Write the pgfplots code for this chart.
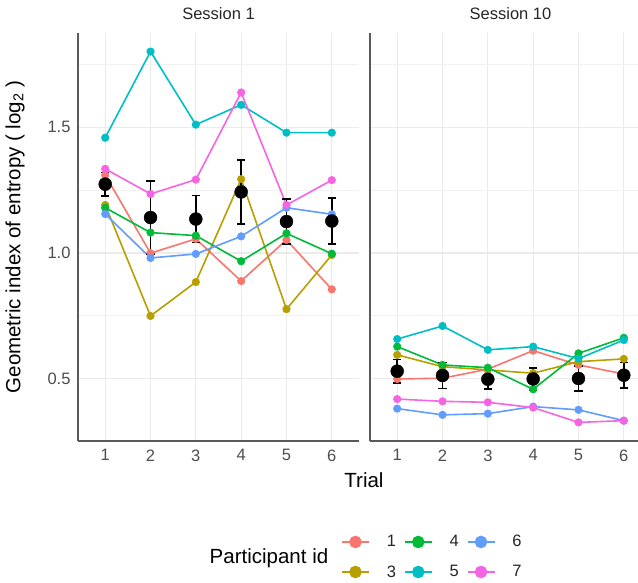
\documentclass[border=0pt]{standalone}
\usepackage{pgfplots}
\pgfplotsset{compat=1.18}
\usepackage{fontspec}
\setmainfont{Liberation Sans}
\definecolor{c1}{HTML}{F8766D}
\definecolor{c3}{HTML}{B79F00}
\definecolor{c4}{HTML}{00BA38}
\definecolor{c5}{HTML}{00BFC4}
\definecolor{c6}{HTML}{619CFF}
\definecolor{c7}{HTML}{F564E3}
\definecolor{gridc}{HTML}{EBEBEB}
\definecolor{axc}{HTML}{5A5A5A}
\definecolor{tickc}{HTML}{4D4D4D}
\pgfplotsset{
  panel/.style={
    scale only axis, width=281pt, height=408pt,
    xmin=0.4, xmax=6.6, ymin=0.251, ymax=1.876,
    axis x line=bottom, axis y line=left,
    axis line style={-, draw=axc, line width=1.3pt},
    xtick={1,2,3,4,5,6}, ytick={0.5,1.0,1.5}, minor ytick={0.75,1.25,1.75},
    grid=both,
    major grid style={draw=gridc, line width=1.3pt},
    minor grid style={draw=gridc!70, line width=0.7pt},
    major tick length=0pt, minor tick length=0pt,
    tick label style={font=\fontsize{16.5}{18}\selectfont, text=tickc},
    /pgf/number format/assume math mode=true,
    yticklabel style={/pgf/number format/fixed, /pgf/number format/fixed zerofill, /pgf/number format/precision=1, xshift=-4pt},
    xticklabel style={yshift=-5pt},
    title style={font=\fontsize{16.5}{18}\selectfont, text=black!85, yshift=4pt},
  },
  pl/.style={color=#1, line width=1.6pt, mark=*, mark size=3.8pt, mark options={solid, fill=#1, draw=#1, line width=0.5pt}, forget plot},
  mn/.style={black, only marks, mark=*, mark size=6.5pt, forget plot,
    error bars/.cd, y dir=both, y explicit,
    error bar style={line width=1.5pt, black},
    error mark options={black, line width=1.5pt, mark size=4.2pt, rotate=90}},
  lg/.style={color=#1, line width=1.6pt, mark=*, mark size=5.5pt, mark options={solid, fill=#1, draw=#1}},
}
\begin{document}
\begin{tikzpicture}
\begin{axis}[panel, at={(78pt,142pt)}, anchor=south west, title={Session 1},
  legend columns=3,
  legend image code/.code={\draw[mark repeat=2, mark phase=2, #1] plot coordinates {(0pt,0pt) (13.5pt,0pt) (27pt,0pt)};},
  legend style={at={(1.261,-0.2843)}, anchor=center, draw=none, fill=none,
    font=\fontsize{16.5}{18}\selectfont, text=black!85, row sep=13pt,
    /tikz/every even column/.append style={column sep=6pt},
    /tikz/every odd column/.append style={column sep=15pt}},
  legend cell align=left]
\addlegendimage{lg=c1}\addlegendentry{1}
\addlegendimage{lg=c4}\addlegendentry{4}
\addlegendimage{lg=c6}\addlegendentry{6}
\addlegendimage{lg=c3}\addlegendentry{3}
\addlegendimage{lg=c5}\addlegendentry{5}
\addlegendimage{lg=c7}\addlegendentry{7}
\addplot[pl=c1] coordinates {(1,1.31)(2,0.999)(3,1.056)(4,0.888)(5,1.052)(6,0.855)};
\addplot[pl=c3] coordinates {(1,1.191)(2,0.749)(3,0.884)(4,1.294)(5,0.776)(6,0.992)};
\addplot[pl=c4] coordinates {(1,1.18)(2,1.081)(3,1.069)(4,0.967)(5,1.078)(6,0.997)};
\addplot[pl=c5] coordinates {(1,1.459)(2,1.802)(3,1.511)(4,1.590)(5,1.479)(6,1.479)};
\addplot[pl=c6] coordinates {(1,1.155)(2,0.98)(3,0.996)(4,1.066)(5,1.18)(6,1.154)};
\addplot[pl=c7] coordinates {(1,1.335)(2,1.235)(3,1.292)(4,1.639)(5,1.191)(6,1.29)};
\addplot[mn] coordinates {(1,1.274) +- (0,0.047) (2,1.141) +- (0,0.146) (3,1.135) +- (0,0.094) (4,1.243) +- (0,0.128) (5,1.125) +- (0,0.090) (6,1.127) +- (0,0.092)};
\end{axis}
\begin{axis}[panel, at={(370pt,142pt)}, anchor=south west, title={Session 10}, yticklabels={}]
\addplot[pl=c1] coordinates {(1,0.498)(2,0.501)(3,0.537)(4,0.611)(5,0.554)(6,0.518)};
\addplot[pl=c3] coordinates {(1,0.594)(2,0.547)(3,0.534)(4,0.521)(5,0.567)(6,0.578)};
\addplot[pl=c4] coordinates {(1,0.627)(2,0.554)(3,0.543)(4,0.457)(5,0.600)(6,0.662)};
\addplot[pl=c5] coordinates {(1,0.657)(2,0.709)(3,0.614)(4,0.627)(5,0.579)(6,0.653)};
\addplot[pl=c6] coordinates {(1,0.380)(2,0.355)(3,0.360)(4,0.388)(5,0.375)(6,0.332)};
\addplot[pl=c7] coordinates {(1,0.418)(2,0.409)(3,0.405)(4,0.384)(5,0.325)(6,0.332)};
\addplot[mn] coordinates {(1,0.529) +- (0,0.047) (2,0.512) +- (0,0.051) (3,0.497) +- (0,0.038) (4,0.498) +- (0,0.044) (5,0.500) +- (0,0.050) (6,0.513) +- (0,0.050)};
\end{axis}
\node[rotate=90, font=\fontsize{20.5}{22}\selectfont] at (15pt,346pt) {Geometric index of entropy ( log\textsubscript{2} )};
\node[font=\fontsize{20.5}{22}\selectfont] at (364pt,103pt) {Trial};
\node[font=\fontsize{20.5}{22}\selectfont] at (269pt,25pt) {Participant id};
\pgfresetboundingbox
\path[use as bounding box] (0pt,0pt) rectangle (638pt,583pt);
\end{tikzpicture}
\end{document}
